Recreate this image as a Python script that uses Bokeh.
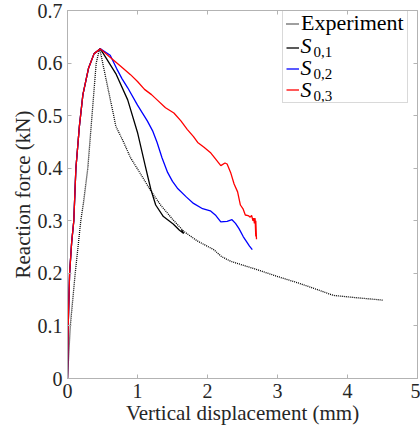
from bokeh.plotting import figure
from bokeh.models import Range1d, LinearAxis, FixedTicker, Legend, LegendItem, Label
from bokeh.embed import file_html
from bokeh.resources import INLINE

# ---------------- data ----------------
x_ticks = [0, 1, 2, 3, 4, 5]
x_tick_labels = ["0", "1", "2", "3", "4", "5"]
y_ticks = [0, 0.1, 0.2, 0.3, 0.4, 0.5, 0.6, 0.7]
y_tick_labels = ["0", "0.1", "0.2", "0.3", "0.4", "0.5", "0.6", "0.7"]

exp_x = [0, 0.04, 0.11, 0.19, 0.23, 0.29, 0.35, 0.41, 0.46, 0.52, 0.60, 0.66, 0.69,
         0.80, 0.90, 1.04, 1.19, 1.33, 1.50, 1.66, 1.85, 2.09, 2.20, 2.33, 2.71,
         3.00, 3.29, 3.55, 3.80, 4.10, 4.51]
exp_y = [0, 0.10, 0.20, 0.30, 0.336, 0.40, 0.50, 0.60, 0.628, 0.589, 0.538, 0.50, 0.48,
         0.45, 0.42, 0.39, 0.357, 0.33, 0.303, 0.28, 0.262, 0.245, 0.232, 0.223, 0.207,
         0.194, 0.182, 0.170, 0.158, 0.154, 0.149]

s01_x = [0, 0.01, 0.03, 0.06, 0.09, 0.12, 0.17, 0.22, 0.30, 0.38, 0.47,
         0.55, 0.69, 0.86, 1.00, 1.11, 1.19, 1.26, 1.37, 1.51, 1.60, 1.66, 1.63]
s01_y = [0, 0.10, 0.20, 0.26, 0.30, 0.40, 0.48, 0.54, 0.59, 0.618, 0.627,
         0.61, 0.58, 0.53, 0.468, 0.405, 0.36, 0.33, 0.308, 0.294, 0.282, 0.276, 0.283]

s02_x = [0, 0.01, 0.03, 0.06, 0.09, 0.12, 0.17, 0.22, 0.30, 0.38, 0.47,
         0.61, 0.70, 0.78, 0.86, 1.00, 1.14, 1.22, 1.28, 1.35, 1.43, 1.50, 1.57,
         1.70, 1.80, 1.93, 2.04, 2.12, 2.19, 2.28, 2.35, 2.40, 2.45, 2.51, 2.56,
         2.60, 2.64]
s02_y = [0, 0.10, 0.20, 0.26, 0.30, 0.40, 0.48, 0.54, 0.59, 0.618, 0.627,
         0.615, 0.59, 0.57, 0.553, 0.52, 0.49, 0.47, 0.449, 0.42, 0.392, 0.375, 0.362,
         0.345, 0.333, 0.323, 0.319, 0.31, 0.298, 0.299, 0.302, 0.295, 0.285, 0.27, 0.26,
         0.252, 0.245]

s03_x = [0, 0.01, 0.03, 0.06, 0.09, 0.12, 0.17, 0.22, 0.30, 0.38, 0.47,
         0.60, 0.76, 0.90, 1.00, 1.10, 1.20, 1.28, 1.40, 1.52, 1.62, 1.71, 1.80,
         1.86, 1.95, 2.04, 2.10, 2.19, 2.25, 2.28, 2.33, 2.38, 2.43, 2.47, 2.51,
         2.54, 2.58, 2.61, 2.63, 2.65, 2.66, 2.67, 2.68, 2.69, 2.69, 2.70]
s03_y = [0, 0.10, 0.20, 0.26, 0.30, 0.40, 0.48, 0.54, 0.59, 0.618, 0.627,
         0.612, 0.594, 0.578, 0.565, 0.55, 0.54, 0.53, 0.515, 0.505, 0.49, 0.474, 0.46,
         0.449, 0.44, 0.43, 0.42, 0.405, 0.41, 0.408, 0.392, 0.37, 0.355, 0.33, 0.322,
         0.311, 0.31, 0.307, 0.31, 0.30, 0.305, 0.295, 0.305, 0.27, 0.30, 0.265]

legend_names = ["Experiment", "S", "S", "S"]
legend_subs = ["", "0,1", "0,2", "0,3"]

# ---------------- figure ----------------
FONT = "Liberation Serif"
AX_COL = "#b3b3b3"
TXT_COL = "#262626"
TOP = 10
BOTTOM = 54

p = figure(width=420, height=432, x_range=Range1d(0, 5), y_range=Range1d(0, 0.7),
           output_backend="svg", toolbar_location=None,
           min_border_left=67, min_border_right=3, min_border_top=TOP,
           min_border_bottom=BOTTOM)
p.grid.visible = False
p.outline_line_color = AX_COL
p.background_fill_color = "white"
p.border_fill_color = "white"

p.xaxis.ticker = FixedTicker(ticks=x_ticks)
p.xaxis.major_label_overrides = {t: l for t, l in zip(x_ticks, x_tick_labels)}
p.yaxis.ticker = FixedTicker(ticks=y_ticks)
p.yaxis.major_label_overrides = {t: l for t, l in zip(y_ticks, y_tick_labels)}
p.xaxis.axis_label = "Vertical displacement (mm)"
p.yaxis.axis_label = "Reaction force (kN)"

for ax in (p.xaxis[0], p.yaxis[0]):
    ax.axis_line_color = AX_COL
    ax.major_tick_line_color = AX_COL
    ax.major_tick_in = 4
    ax.major_tick_out = 0
    ax.minor_tick_line_color = None
    ax.major_label_text_font = FONT
    ax.major_label_text_font_size = "20px"
    ax.major_label_text_color = TXT_COL
    ax.axis_label_text_font = FONT
    ax.axis_label_text_font_size = "21px"
    ax.axis_label_text_font_style = "normal"
    ax.axis_label_text_color = TXT_COL
p.xaxis.major_label_standoff = 5
p.xaxis.axis_label_standoff = 0
p.yaxis.major_label_standoff = 5
p.yaxis.axis_label_standoff = 0

# mirror ticks on top and right (no labels)
top_ax = LinearAxis(ticker=FixedTicker(ticks=x_ticks),
                    major_label_overrides={t: "" for t in x_ticks})
right_ax = LinearAxis(ticker=FixedTicker(ticks=y_ticks),
                      major_label_overrides={t: "" for t in y_ticks})
for ax in (top_ax, right_ax):
    ax.axis_line_color = None
    ax.major_tick_line_color = AX_COL
    ax.major_tick_in = 4
    ax.major_tick_out = 0
    ax.minor_tick_line_color = None
    ax.major_label_standoff = 0
p.add_layout(top_ax, "above")
p.add_layout(right_ax, "right")

# ---------------- lines ----------------
r_exp = p.line(exp_x, exp_y, line_color="black", line_width=1.3, line_dash="1 1")
r1 = p.line(s01_x, s01_y, line_color="black", line_width=1.3)
r2 = p.line(s02_x, s02_y, line_color="blue", line_width=1.3)
r3 = p.line(s03_x, s03_y, line_color="red", line_width=1.3)

# ---------------- legend ----------------
items = [LegendItem(label=legend_names[0], renderers=[r_exp]),
         LegendItem(label=" ", renderers=[r1]),
         LegendItem(label=" ", renderers=[r2]),
         LegendItem(label=" ", renderers=[r3])]
leg = Legend(items=items, location=(215, 278 - (TOP - 7)), margin=0, padding=3, spacing=2,
             glyph_width=13, glyph_height=19, label_height=19, label_standoff=2,
             label_text_font=FONT, label_text_font_size="22px", label_text_color="black",
             border_line_color=AX_COL, background_fill_alpha=0.0)
p.add_layout(leg)

# pixel -> data helpers for placing the legend's math-style labels
FRAME_H = 432 - TOP - BOTTOM

def px2x(px):
    return (px - 67) / 70.0

def py2y(py):
    return (432 - BOTTOM - py) / FRAME_H * 0.7

item_centers = [22, 45, 67, 89]
for name, sub, cy in zip(legend_names[1:], legend_subs[1:], item_centers[1:]):
    p.add_layout(Label(x=px2x(300), y=py2y(cy), text=name, text_font=FONT,
                       text_font_style="italic", text_font_size="22px",
                       text_baseline="middle", text_color="black", level="overlay"))
    p.add_layout(Label(x=px2x(313), y=py2y(cy + 6), text=sub, text_font=FONT,
                       text_font_size="15px", text_baseline="middle", text_color="black",
                       level="overlay"))

open("out.html", "w").write(file_html(p, INLINE))
